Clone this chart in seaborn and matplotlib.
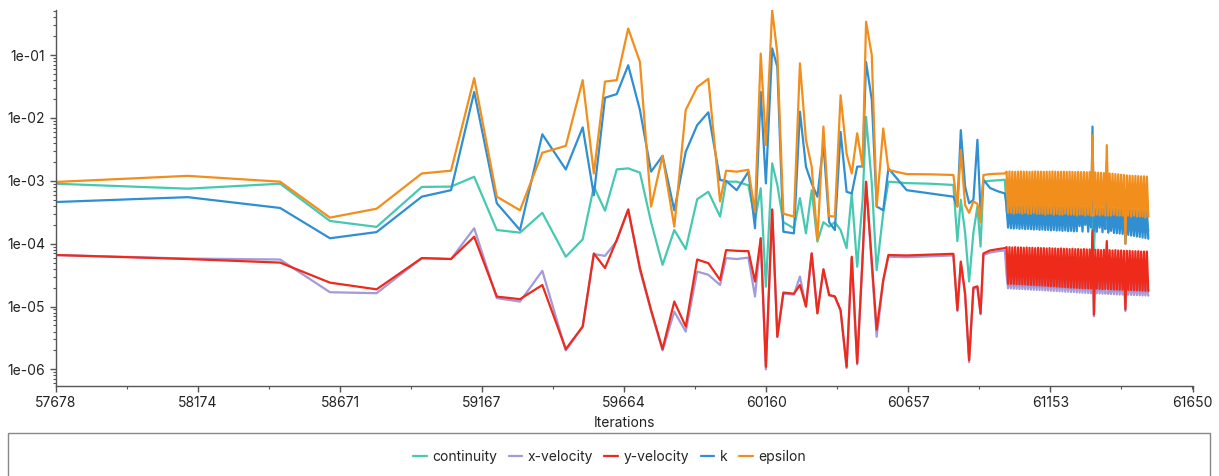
import numpy as np
import pandas as pd
import seaborn as sns
import matplotlib.pyplot as plt
from matplotlib.ticker import FixedLocator, FuncFormatter, AutoMinorLocator, LogLocator
from matplotlib.patches import Rectangle

# residual history
iters = [57678, 58139, 58462, 58636, 58799, 58957, 59059, 59140, 59219, 59300,
         59378, 59460, 59519, 59558, 59597, 59638, 59678, 59719, 59758, 59798,
         59839, 59879, 59919, 59958, 59999, 60020, 60057, 60098, 60121, 60141,
         60159, 60181, 60199, 60220, 60257, 60278, 60299, 60319, 60339, 60360,
         60380, 60400, 60420, 60441, 60459, 60478, 60497, 60509, 60529, 60546,
         60569, 60587, 60651, 60732, 60814, 60828, 60840, 60855, 60869, 60884,
         60898, 60909, 60919, 60942, 60970, 60994]

continuity = [9.0e-4, 7.5e-4, 9.0e-4, 2.3e-4, 1.85e-4, 8.0e-4, 8.1e-4, 1.16e-3, 1.65e-4, 1.5e-4,
              3.1e-4, 6.2e-5, 1.17e-4, 8.1e-4, 3.35e-4, 1.52e-3, 1.58e-3, 1.35e-3, 2.2e-4, 4.6e-5,
              1.65e-4, 8.2e-5, 5.1e-4, 6.7e-4, 2.7e-4, 9.7e-4, 9.7e-4, 8.5e-4, 2.4e-4, 7.6e-4,
              2.07e-5, 1.9e-3, 8.6e-4, 2.2e-4, 1.76e-4, 5.3e-4, 1.46e-4, 7.1e-4, 1.08e-4, 2.2e-4,
              1.87e-4, 2.2e-4, 1.65e-4, 8.5e-5, 6.3e-4, 4.3e-5, 5.0e-4, 1.04e-2, 9.1e-4, 3.8e-5,
              3.1e-4, 9.7e-4, 9.2e-4, 9.0e-4, 8.6e-4, 1.1e-4, 5.0e-4, 1.5e-4, 2.5e-5, 1.5e-4,
              3.9e-4, 9.0e-5, 9.7e-4, 1.0e-3, 1.02e-3, 1.04e-3]

x_velocity = [6.6e-5, 5.8e-5, 5.6e-5, 1.69e-5, 1.63e-5, 5.9e-5, 5.7e-5, 1.76e-4, 1.36e-5, 1.2e-5,
              3.7e-5, 2.0e-6, 4.8e-6, 6.8e-5, 6.4e-5, 1.1e-4, 3.5e-4, 3.8e-5, 8.4e-6, 2.0e-6,
              8.3e-6, 4.0e-6, 3.6e-5, 3.2e-5, 2.2e-5, 5.9e-5, 5.7e-5, 6.0e-5, 1.44e-5, 1.22e-4,
              1.0e-6, 3.5e-4, 3.3e-6, 1.6e-5, 1.55e-5, 3.0e-5, 1.0e-5, 7.0e-5, 7.8e-6, 3.9e-5,
              1.5e-5, 1.42e-5, 8.5e-6, 1.05e-6, 6.0e-5, 1.2e-6, 6.0e-5, 9.5e-4, 4.5e-5, 3.3e-6,
              2.5e-5, 6.2e-5, 6.1e-5, 6.3e-5, 6.5e-5, 8.5e-6, 5.0e-5, 1.55e-5, 1.3e-6, 1.9e-5,
              2.0e-5, 7.5e-6, 6.6e-5, 7.2e-5, 7.6e-5, 7.8e-5]

y_velocity = [6.6e-5, 5.7e-5, 5.0e-5, 2.4e-5, 1.88e-5, 5.9e-5, 5.7e-5, 1.29e-4, 1.44e-5, 1.31e-5,
              2.2e-5, 2.1e-6, 4.8e-6, 7.0e-5, 4.1e-5, 1.15e-4, 3.5e-4, 4.1e-5, 8.8e-6, 2.1e-6,
              1.2e-5, 4.8e-6, 5.6e-5, 4.9e-5, 2.65e-5, 7.9e-5, 7.7e-5, 7.6e-5, 2.5e-5, 1.22e-4,
              1.1e-6, 3.5e-4, 3.3e-6, 1.67e-5, 1.6e-5, 2.2e-5, 1.0e-5, 7.0e-5, 7.8e-6, 3.9e-5,
              1.53e-5, 1.45e-5, 8.8e-6, 1.1e-6, 6.2e-5, 1.26e-6, 6.2e-5, 9.7e-4, 5.2e-5, 4.3e-6,
              2.65e-5, 6.6e-5, 6.5e-5, 6.7e-5, 6.9e-5, 8.8e-6, 5.2e-5, 1.6e-5, 1.4e-6, 2.0e-5,
              2.1e-5, 7.8e-6, 7.0e-5, 7.8e-5, 8.2e-5, 8.5e-5]

k = [4.6e-4, 5.5e-4, 3.7e-4, 1.22e-4, 1.53e-4, 5.6e-4, 7.1e-4, 2.6e-2, 4.4e-4, 1.65e-4,
     5.5e-3, 1.52e-3, 7.1e-3, 5.9e-4, 2.1e-2, 2.4e-2, 6.9e-2, 1.34e-2, 1.4e-3, 2.5e-3,
     3.4e-4, 2.9e-3, 7.7e-3, 1.23e-2, 1.03e-3, 1.0e-3, 7.1e-4, 1.4e-3, 1.76e-4, 2.6e-2,
     9.1e-4, 1.28e-1, 6.5e-2, 1.55e-4, 1.46e-4, 1.26e-2, 1.68e-3, 9.1e-4, 5.6e-4, 3.9e-3,
     2.2e-4, 1.65e-4, 6.0e-3, 6.7e-4, 6.3e-4, 1.68e-3, 1.7e-3, 7.8e-2, 1.93e-2, 3.9e-4,
     3.4e-4, 1.58e-3, 7.1e-4, 6.3e-4, 5.6e-4, 3.9e-4, 6.4e-3, 8.1e-4, 4.4e-4, 5.0e-4,
     4.5e-3, 3.1e-4, 1.04e-3, 7.7e-4, 6.8e-4, 6.3e-4]

epsilon = [9.6e-4, 1.2e-3, 9.7e-4, 2.6e-4, 3.6e-4, 1.31e-3, 1.45e-3, 4.3e-2, 5.6e-4, 3.4e-4,
           2.8e-3, 3.6e-3, 4.0e-2, 1.31e-3, 3.8e-2, 4.0e-2, 2.65e-1, 7.8e-2, 3.9e-4, 2.5e-3,
           1.87e-4, 1.34e-2, 3.1e-2, 4.2e-2, 4.7e-4, 1.45e-3, 1.4e-3, 1.5e-3, 3.2e-4, 1.06e-1,
           3.7e-3, 5.2e-1, 1.06e-1, 3.0e-4, 2.7e-4, 7.4e-2, 4.5e-3, 1.68e-3, 1.15e-4, 7.3e-3,
           2.75e-4, 2.7e-4, 2.3e-2, 2.7e-3, 1.31e-3, 5.7e-3, 1.68e-3, 3.4e-1, 1.0e-1, 3.9e-4,
           6.8e-3, 1.49e-3, 1.28e-3, 1.27e-3, 1.24e-3, 3.9e-4, 3.1e-3, 4.1e-4, 3.1e-4, 4.7e-4,
           4.3e-4, 2.2e-4, 1.24e-3, 1.28e-3, 1.30e-3, 1.31e-3]

# last stretch: residuals flip between a high and a low value every output step
dense_iters = np.arange(61000, 61500, 5)

continuity_hi = [3.3e-4, 3.2e-4, 3.3e-4, 3.2e-4, 3.3e-4, 3.2e-4, 3.2e-4, 3.3e-4, 3.2e-4, 3.2e-4,
                 3.2e-4, 3.1e-4, 3.2e-4, 3.2e-4, 3.1e-4, 3.2e-4, 3.1e-4, 3.1e-4, 3.2e-4, 3.1e-4,
                 3.1e-4, 3.1e-4, 3.0e-4, 3.1e-4, 3.0e-4, 3.0e-4, 3.1e-4, 3.0e-4, 3.0e-4, 3.0e-4,
                 2.6e-4, 2.5e-4, 2.6e-4, 2.4e-4, 2.5e-4, 6.0e-4, 2.5e-4, 2.9e-4, 2.9e-4, 2.8e-4,
                 2.8e-4, 2.8e-4, 2.8e-4, 2.7e-4, 2.8e-4, 2.7e-4, 2.7e-4, 2.7e-4, 2.6e-4, 2.6e-4]
continuity_lo = [2.3e-4, 2.2e-4, 2.3e-4, 2.2e-4, 2.2e-4, 2.3e-4, 2.2e-4, 2.2e-4, 2.1e-4, 2.2e-4,
                 2.2e-4, 2.1e-4, 2.2e-4, 2.1e-4, 2.1e-4, 2.2e-4, 2.1e-4, 2.1e-4, 2.0e-4, 2.1e-4,
                 2.1e-4, 2.0e-4, 2.1e-4, 2.0e-4, 2.0e-4, 2.1e-4, 2.0e-4, 2.0e-4, 2.0e-4, 2.1e-4,
                 8.0e-5, 2.2e-4, 2.1e-4, 2.2e-4, 2.0e-4, 2.1e-4, 2.2e-4, 1.9e-4, 1.9e-4, 1.9e-4,
                 1.8e-4, 1.2e-4, 1.8e-4, 1.8e-4, 1.7e-4, 1.7e-4, 1.7e-4, 1.6e-4, 1.6e-4, 1.6e-4]
x_velocity_hi = [3.1e-5, 3.0e-5, 3.1e-5, 3.0e-5, 3.0e-5, 3.1e-5, 3.0e-5, 3.0e-5, 2.9e-5, 3.0e-5,
                 3.0e-5, 2.9e-5, 3.0e-5, 2.9e-5, 2.9e-5, 3.0e-5, 2.9e-5, 2.9e-5, 2.8e-5, 2.9e-5,
                 2.9e-5, 2.8e-5, 2.9e-5, 2.8e-5, 2.8e-5, 2.8e-5, 2.8e-5, 2.7e-5, 2.8e-5, 2.7e-5,
                 1.5e-4, 2.7e-5, 2.7e-5, 2.7e-5, 2.6e-5, 1.0e-4, 2.6e-5, 2.6e-5, 2.6e-5, 2.5e-5,
                 2.5e-5, 2.5e-5, 2.5e-5, 2.4e-5, 2.4e-5, 2.4e-5, 2.4e-5, 2.3e-5, 2.3e-5, 2.3e-5]
x_velocity_lo = [1.95e-5, 1.94e-5, 1.92e-5, 1.92e-5, 1.9e-5, 1.9e-5, 1.88e-5, 1.88e-5, 1.86e-5, 1.85e-5,
                 1.84e-5, 1.83e-5, 1.82e-5, 1.8e-5, 1.8e-5, 1.78e-5, 1.77e-5, 1.76e-5, 1.75e-5, 1.74e-5,
                 1.72e-5, 1.72e-5, 1.7e-5, 1.7e-5, 1.68e-5, 1.67e-5, 1.66e-5, 1.65e-5, 1.64e-5, 1.63e-5,
                 7.0e-6, 1.62e-5, 1.61e-5, 1.6e-5, 1.6e-5, 1.59e-5, 1.58e-5, 1.57e-5, 1.56e-5, 1.55e-5,
                 1.55e-5, 8.5e-6, 1.54e-5, 1.53e-5, 1.52e-5, 1.52e-5, 1.51e-5, 1.5e-5, 1.5e-5, 1.49e-5]
y_velocity_hi = [8.8e-5, 8.8e-5, 8.7e-5, 8.8e-5, 8.7e-5, 8.7e-5, 8.6e-5, 8.7e-5, 8.6e-5, 8.6e-5,
                 8.5e-5, 8.6e-5, 8.5e-5, 8.5e-5, 8.4e-5, 8.5e-5, 8.4e-5, 8.4e-5, 8.3e-5, 8.4e-5,
                 8.3e-5, 8.3e-5, 8.2e-5, 8.3e-5, 8.2e-5, 8.2e-5, 8.1e-5, 8.2e-5, 8.1e-5, 8.1e-5,
                 1.65e-4, 8.0e-5, 8.0e-5, 7.9e-5, 8.0e-5, 1.1e-4, 7.9e-5, 7.8e-5, 7.9e-5, 7.8e-5,
                 7.8e-5, 7.7e-5, 7.7e-5, 7.7e-5, 7.6e-5, 7.6e-5, 7.6e-5, 7.5e-5, 7.5e-5, 7.5e-5]
y_velocity_lo = [2.3e-5, 2.3e-5, 2.28e-5, 2.27e-5, 2.26e-5, 2.25e-5, 2.24e-5, 2.22e-5, 2.2e-5, 2.2e-5,
                 2.18e-5, 2.17e-5, 2.15e-5, 2.14e-5, 2.12e-5, 2.1e-5, 2.1e-5, 2.08e-5, 2.06e-5, 2.05e-5,
                 2.04e-5, 2.02e-5, 2.0e-5, 2.0e-5, 1.98e-5, 1.97e-5, 1.96e-5, 1.95e-5, 1.94e-5, 1.93e-5,
                 7.5e-6, 1.92e-5, 1.91e-5, 1.9e-5, 1.9e-5, 1.89e-5, 1.88e-5, 1.87e-5, 1.86e-5, 1.85e-5,
                 1.85e-5, 9.0e-6, 1.84e-5, 1.83e-5, 1.82e-5, 1.81e-5, 1.8e-5, 1.79e-5, 1.78e-5, 1.77e-5]
k_hi = [4.0e-4, 3.9e-4, 4.0e-4, 4.1e-4, 4.0e-4, 3.9e-4, 4.0e-4, 4.0e-4, 3.9e-4, 4.0e-4,
        3.9e-4, 4.0e-4, 3.9e-4, 3.9e-4, 4.0e-4, 3.8e-4, 3.9e-4, 3.9e-4, 3.8e-4, 3.9e-4,
        3.8e-4, 3.8e-4, 3.9e-4, 3.8e-4, 3.7e-4, 3.8e-4, 3.7e-4, 3.8e-4, 3.7e-4, 3.7e-4,
        7.3e-3, 3.6e-4, 3.7e-4, 3.6e-4, 3.6e-4, 2.0e-3, 3.6e-4, 3.5e-4, 3.6e-4, 3.5e-4,
        3.5e-4, 3.4e-4, 3.5e-4, 3.4e-4, 3.4e-4, 3.4e-4, 3.3e-4, 3.4e-4, 3.3e-4, 3.3e-4]
k_lo = [1.8e-4, 1.76e-4, 1.74e-4, 1.76e-4, 1.72e-4, 1.74e-4, 1.7e-4, 1.72e-4, 1.7e-4, 1.68e-4,
        1.7e-4, 1.66e-4, 1.68e-4, 1.65e-4, 1.66e-4, 1.63e-4, 1.65e-4, 1.62e-4, 1.63e-4, 1.6e-4,
        1.62e-4, 1.58e-4, 1.6e-4, 1.57e-4, 1.58e-4, 1.9e-4, 1.56e-4, 2.0e-4, 1.55e-4, 1.8e-4,
        1.6e-4, 1.55e-4, 1.8e-4, 1.52e-4, 1.7e-4, 1.5e-4, 1.6e-4, 1.48e-4, 1.47e-4, 1.45e-4,
        1.43e-4, 1.0e-4, 1.38e-4, 1.35e-4, 1.33e-4, 1.3e-4, 1.28e-4, 1.25e-4, 1.23e-4, 1.2e-4]
epsilon_hi = [1.40e-3, 1.41e-3, 1.40e-3, 1.39e-3, 1.40e-3, 1.41e-3, 1.40e-3, 1.40e-3, 1.39e-3, 1.40e-3,
              1.41e-3, 1.40e-3, 1.40e-3, 1.39e-3, 1.40e-3, 1.40e-3, 1.41e-3, 1.40e-3, 1.39e-3, 1.40e-3,
              1.40e-3, 1.39e-3, 1.40e-3, 1.39e-3, 1.38e-3, 1.39e-3, 1.38e-3, 1.38e-3, 1.37e-3, 1.38e-3,
              5.3e-3, 1.36e-3, 1.35e-3, 1.34e-3, 1.33e-3, 3.7e-3, 1.31e-3, 1.30e-3, 1.28e-3, 1.27e-3,
              1.25e-3, 1.24e-3, 1.22e-3, 1.21e-3, 1.20e-3, 1.20e-3, 1.19e-3, 1.18e-3, 1.18e-3, 1.17e-3]
epsilon_lo = [3.1e-4, 3.1e-4, 3.0e-4, 3.1e-4, 3.1e-4, 3.0e-4, 3.1e-4, 3.0e-4, 3.0e-4, 3.1e-4,
              3.0e-4, 3.0e-4, 3.0e-4, 2.9e-4, 3.0e-4, 3.0e-4, 2.9e-4, 3.0e-4, 2.9e-4, 2.9e-4,
              3.0e-4, 2.9e-4, 2.9e-4, 2.9e-4, 2.8e-4, 2.9e-4, 2.9e-4, 2.8e-4, 2.9e-4, 2.8e-4,
              2.8e-4, 2.9e-4, 2.8e-4, 2.9e-4, 2.8e-4, 2.8e-4, 2.8e-4, 2.9e-4, 2.8e-4, 2.8e-4,
              2.8e-4, 1.0e-4, 2.8e-4, 2.7e-4, 2.8e-4, 2.7e-4, 2.7e-4, 2.7e-4, 2.6e-4, 2.7e-4]

names = ["continuity", "x-velocity", "y-velocity", "k", "epsilon"]
colors = ["#46c9b0", "#a39ad9", "#ee2a1b", "#2f8fd2", "#f28e1c"]
main = [continuity, x_velocity, y_velocity, k, epsilon]
highs = [continuity_hi, x_velocity_hi, y_velocity_hi, k_hi, epsilon_hi]
lows = [continuity_lo, x_velocity_lo, y_velocity_lo, k_lo, epsilon_lo]

frames = []
for name, vals, hi, lo in zip(names, main, highs, lows):
    zig = np.empty(2 * len(hi))
    zig[0::2] = hi
    zig[1::2] = lo
    frames.append(pd.DataFrame({
        "Iterations": np.concatenate([iters, dense_iters]),
        "residual": np.concatenate([vals, zig]),
        "series": name,
    }))
df = pd.concat(frames, ignore_index=True)

sns.set_style("white")
plt.rcParams["font.family"] = ["Inter", "DejaVu Sans"]

fig = plt.figure(figsize=(12.19, 4.76), dpi=100)
ax = fig.add_axes([0.0457, 0.1897, 0.9327, 0.789])

sns.lineplot(
    data=df,
    x="Iterations",
    y="residual",
    hue="series",
    hue_order=names,
    palette=colors,
    estimator=None,
    sort=False,
    linewidth=1.6,
    ax=ax
)

ax.set_yscale("log")
ax.set_ylim(5.5e-7, 0.52)
ax.set_xlim(57678, 61650)

xticks = [57678, 58174, 58671, 59167, 59664, 60160, 60657, 61153, 61650]
ax.xaxis.set_major_locator(FixedLocator(xticks))
ax.xaxis.set_minor_locator(AutoMinorLocator(2))
ax.yaxis.set_major_locator(LogLocator(base=10, numticks=20))
ax.yaxis.set_minor_locator(LogLocator(base=10, subs=np.arange(2, 10), numticks=20))
ax.yaxis.set_major_formatter(FuncFormatter(lambda v, p: f"{v:.0e}"))

for side in ["top", "right"]:
    ax.spines[side].set_visible(False)
for side in ["left", "bottom"]:
    ax.spines[side].set_color("#555555")
    ax.spines[side].set_linewidth(1.0)

ax.tick_params(which="major", direction="out", length=4, width=1, color="#555555",
               labelsize=10, labelcolor="#222222", left=True, bottom=True)
ax.tick_params(which="minor", direction="out", length=2.5, width=0.8, color="#555555",
               left=True, bottom=True)
ax.set_xlabel("Iterations", fontsize=10, color="#222222", labelpad=4)
ax.set_ylabel("")

handles, labels = ax.get_legend_handles_labels()
ax.get_legend().remove()
fig.legend(
    handles,
    labels,
    loc="center",
    bbox_to_anchor=(0.5, 0.04),
    ncol=5,
    frameon=False,
    fontsize=10,
    handlelength=1.0,
    handletextpad=0.4,
    columnspacing=0.8
)

fig.patches.append(Rectangle((0.0066, -0.05), 0.986, 0.1403, transform=fig.transFigure,
                             fill=False, edgecolor="#888888", linewidth=1.0))

fig.savefig("out.png", dpi=100)
